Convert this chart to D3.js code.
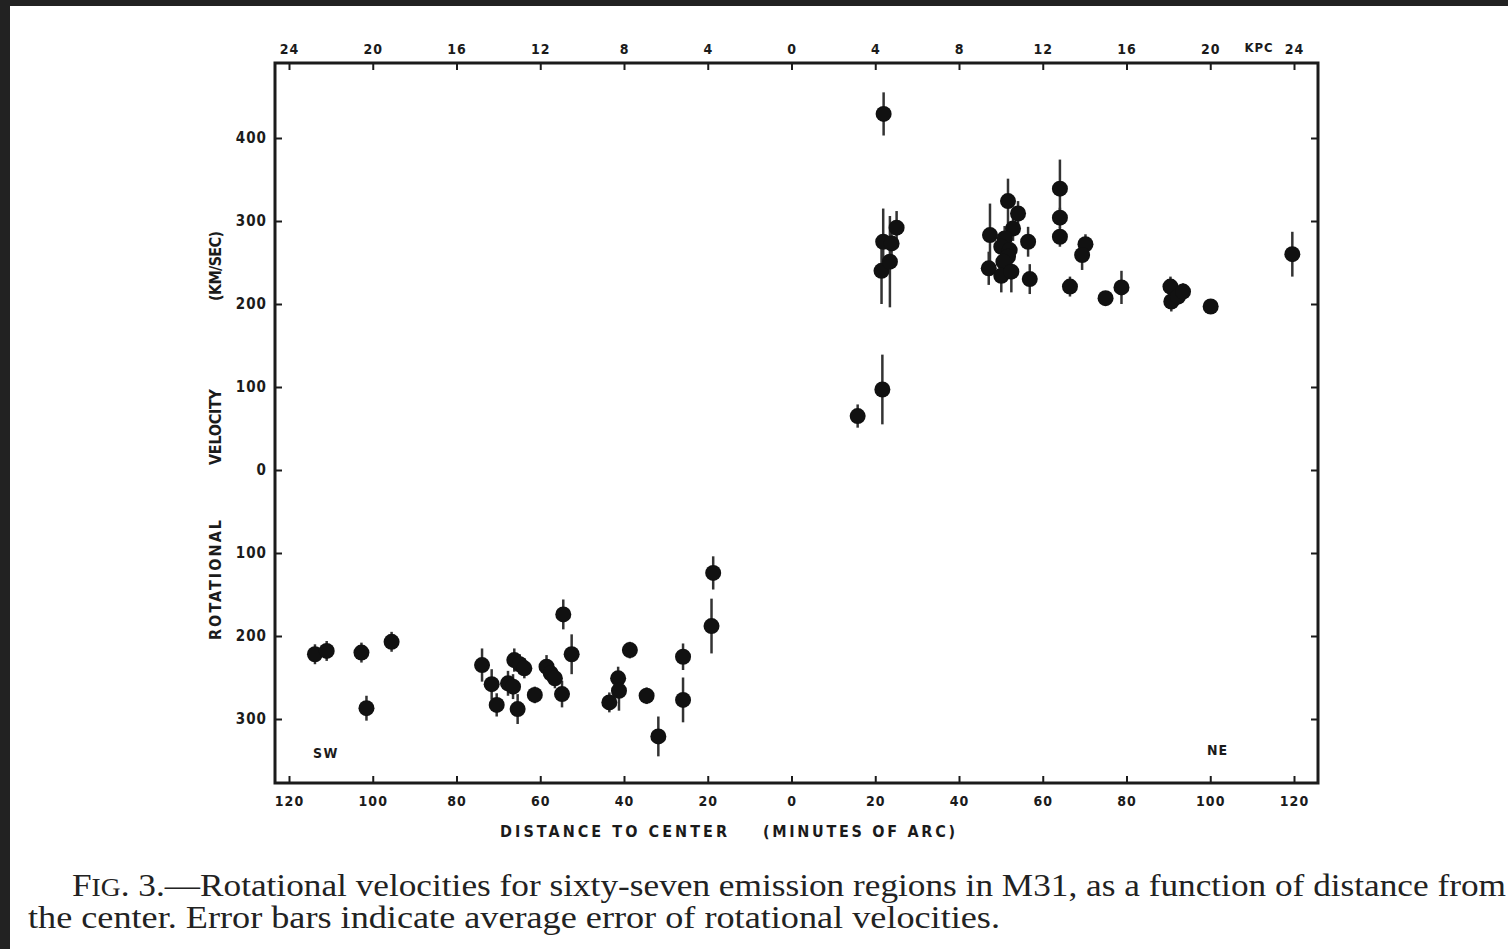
<!DOCTYPE html>
<html>
<head>
<meta charset="utf-8">
<script src="https://cdn.jsdelivr.net/npm/d3@7"></script>
<style>
  html, body { margin: 0; padding: 0; background: #fff; }
  svg { display: block; }
</style>
</head>
<body>
<svg id="chart"></svg>
<script>
// distance to center in minutes of arc (negative = SW side), rotational velocity, average error (km/sec)
const distArcmin = [
  -113.8, -111.0, -102.7, -95.5, -101.5, -73.9, -71.6, -70.4, -67.7, -66.5, -66.2,
  -64.9, -63.8, -65.4, -61.3, -58.5, -57.5, -56.5, -54.5, -52.5, -54.8, -43.5,
  -41.4, -41.2, -38.6, -34.6, -31.8, -25.9, -25.9, -19.1, -18.7,
  22.0, 21.5, 21.9, 23.9, 25.1, 23.5, 15.8, 21.7,
  47.4, 47.1, 51.7, 54.1, 52.9, 50.9, 50.1, 52.1, 51.7, 50.6, 50.1, 52.5,
  56.5, 56.9, 64.1, 64.1, 64.1, 66.5, 70.2, 69.4, 75.0, 78.8,
  90.5, 90.7, 92.3, 93.5, 100.1, 119.6
];
const velocity = [
  -222, -218, -220, -207, -287, -235, -258, -283, -257, -261, -229,
  -234, -239, -288, -271, -237, -245, -251, -174, -222, -270, -280,
  -251, -266, -217, -272, -321, -225, -277, -188, -124,
  429, 240, 275, 273, 292, 251, 65, 97,
  283, 243, 324, 309, 291, 279, 269, 265, 257, 251, 234, 239,
  275, 230, 339, 304, 281, 221, 272, 259, 207, 220,
  221, 203, 209, 215, 197, 260
];
const velError = [
  12, 12, 12, 12, 15, 20, 18, 14, 15, 15, 14,
  12, 12, 18, 10, 14, 12, 12, 18, 24, 16, 12,
  14, 24, 10, 10, 24, 16, 27, 33, 20,
  26, 40, 40, 22, 20, 55, 14, 42,
  38, 20, 27, 15, 15, 15, 15, 15, 15, 15, 20, 25,
  18, 18, 35, 12, 12, 12, 12, 18, 8, 20,
  12, 12, 10, 10, 8, 27
];

const minuteTicks = d3.range(-120, 121, 20);
const kpcTicks = d3.range(-24, 25, 4);
const velTicks = d3.range(-300, 401, 100);

const captionLine1 = "Rotational velocities for sixty-seven emission regions in M31, as a function of distance from";
const captionLine2 = "the center. Error bars indicate average error of rotational velocities.";

const W = 1508, H = 949;
const ink = "#1b1b1b";
const tickFont = "'DejaVu Sans Condensed', 'DejaVu Sans', sans-serif";

const svg = d3.select("#chart").attr("width", W).attr("height", H);

svg.append("rect").attr("width", W).attr("height", H).attr("fill", "#fff");
// dark edge of the scanned page
svg.append("rect").attr("x", 0).attr("y", 0).attr("width", W).attr("height", 6).attr("fill", "#222");
svg.append("rect").attr("x", 0).attr("y", 0).attr("width", 10).attr("height", H).attr("fill", "#222");

const frame = {left: 275, right: 1318, top: 63, bottom: 783};

const x = d3.scaleLinear().domain([-120, 120]).range([289, 1294]);
const xKpc = d3.scaleLinear().domain([-24, 24]).range([289, 1294]);
const y = d3.scaleLinear().domain([-300, 400]).range([719, 138]);

function styleAxis(g, size) {
  g.select(".domain").remove();
  g.selectAll(".tick line").attr("stroke", ink).attr("stroke-width", 2);
  g.selectAll(".tick text")
    .attr("fill", ink)
    .attr("font-family", tickFont)
    .attr("font-weight", "bold")
    .attr("font-size", size)
    .attr("letter-spacing", 1);
}

svg.append("g")
  .attr("transform", `translate(0,${frame.bottom})`)
  .call(d3.axisBottom(x).tickValues(minuteTicks).tickSize(-7).tickPadding(13)
    .tickFormat(d => Math.abs(d)))
  .call(g => styleAxis(g, 14));

svg.append("g")
  .attr("transform", `translate(0,${frame.top})`)
  .call(d3.axisTop(xKpc).tickValues(kpcTicks).tickSize(-7).tickPadding(9)
    .tickFormat(d => Math.abs(d)))
  .call(g => styleAxis(g, 14));

svg.append("text")
  .attr("x", 1259).attr("y", 52)
  .attr("text-anchor", "middle")
  .attr("font-family", tickFont).attr("font-weight", "bold").attr("font-size", 13)
  .attr("letter-spacing", 1).attr("fill", ink)
  .text("KPC");

svg.append("g")
  .attr("transform", `translate(${frame.left},0)`)
  .call(d3.axisLeft(y).tickValues(velTicks).tickSize(-7).tickPadding(8)
    .tickFormat(d => Math.abs(d)))
  .call(g => styleAxis(g, 15));

svg.append("g")
  .attr("transform", `translate(${frame.right},0)`)
  .call(d3.axisRight(y).tickValues(velTicks).tickSize(-7).tickFormat(""))
  .call(g => styleAxis(g, 15));

svg.append("rect")
  .attr("x", frame.left).attr("y", frame.top)
  .attr("width", frame.right - frame.left).attr("height", frame.bottom - frame.top)
  .attr("fill", "none").attr("stroke", ink).attr("stroke-width", 3);

// axis titles
function label(txt, xx, yy, len, rotate) {
  svg.append("text")
    .attr("transform", rotate ? `translate(${xx},${yy}) rotate(-90)` : `translate(${xx},${yy})`)
    .attr("text-anchor", "start")
    .attr("font-family", tickFont).attr("font-weight", "bold").attr("font-size", 16)
    .attr("fill", ink)
    .attr("textLength", len).attr("lengthAdjust", "spacing")
    .text(txt);
}
label("DISTANCE TO CENTER", 500, 837, 227, false);
label("(MINUTES OF ARC)", 763, 837, 192, false);
label("ROTATIONAL", 221, 640, 120, true);
label("VELOCITY", 221, 465, 76, true);
label("(KM/SEC)", 221, 301, 70, true);

svg.append("text").attr("x", 313).attr("y", 758)
  .attr("font-family", tickFont).attr("font-weight", "bold").attr("font-size", 14)
  .attr("letter-spacing", 1.5).attr("fill", ink).text("SW");
svg.append("text").attr("x", 1207).attr("y", 755)
  .attr("font-family", tickFont).attr("font-weight", "bold").attr("font-size", 14)
  .attr("letter-spacing", 1).attr("fill", ink).text("NE");

// data
const points = distArcmin.map((d, i) => ({d, v: velocity[i], e: velError[i]}));

svg.append("g").selectAll("line").data(points).join("line")
  .attr("x1", p => x(p.d)).attr("x2", p => x(p.d))
  .attr("y1", p => y(p.v + p.e)).attr("y2", p => y(p.v - p.e))
  .attr("stroke", "#333").attr("stroke-width", 2.5);

svg.append("g").selectAll("circle").data(points).join("circle")
  .attr("cx", p => x(p.d)).attr("cy", p => y(p.v))
  .attr("r", 8)
  .attr("fill", "#111");

// caption
const cap = svg.append("g")
  .attr("font-family", "'Liberation Serif', 'DejaVu Serif', serif")
  .attr("font-size", 32).attr("fill", "#222");

const l1 = cap.append("text").attr("x", 72).attr("y", 896)
  .attr("textLength", 1434).attr("lengthAdjust", "spacingAndGlyphs");
l1.append("tspan").text("F");
l1.append("tspan").attr("font-size", 25).text("IG");
l1.append("tspan").text(". 3.\u2014" + captionLine1);

cap.append("text").attr("x", 28).attr("y", 928)
  .attr("textLength", 972).attr("lengthAdjust", "spacingAndGlyphs")
  .text(captionLine2);
</script>
</body>
</html>
